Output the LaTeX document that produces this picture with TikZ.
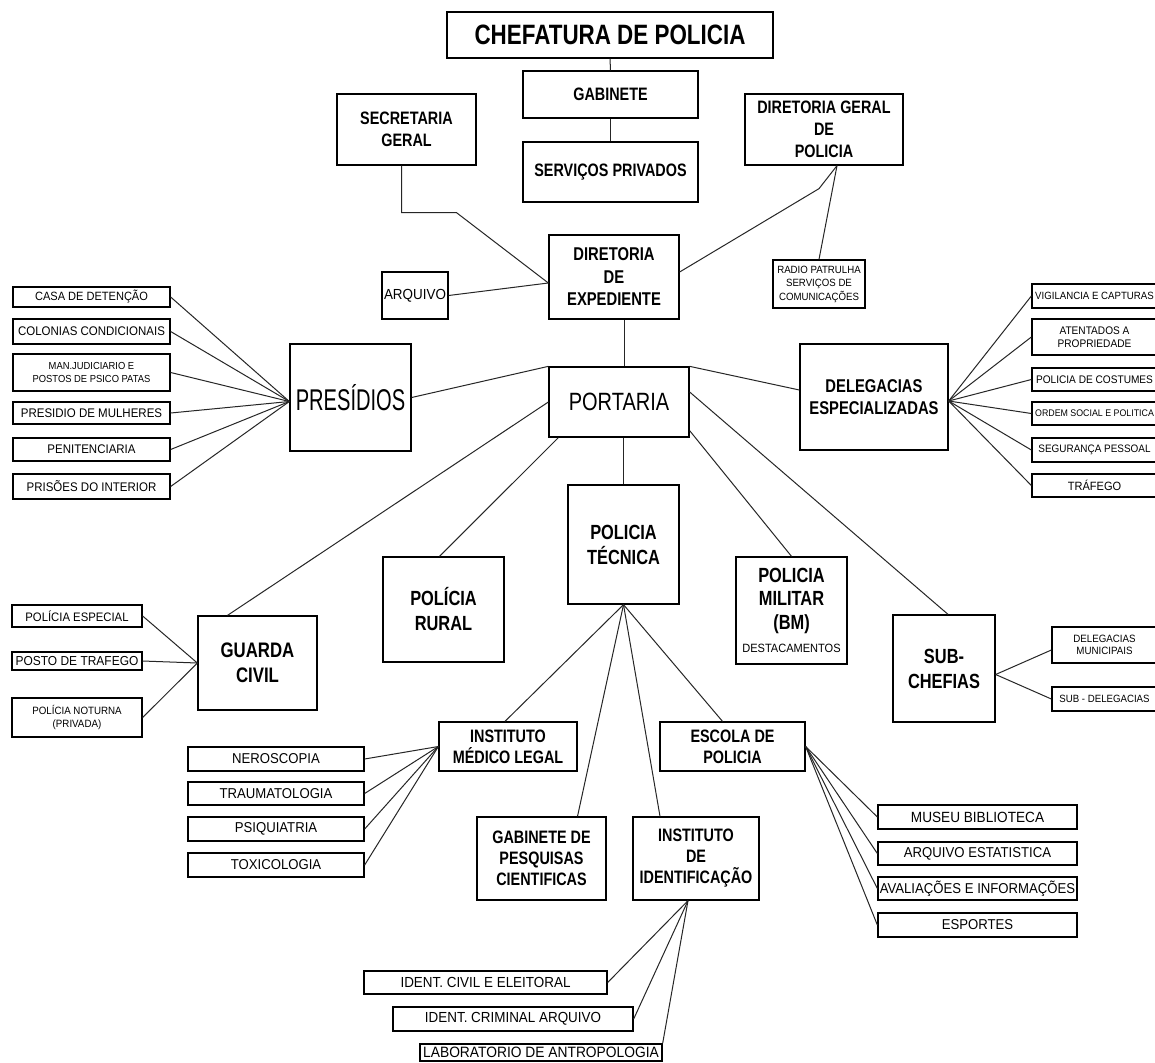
\documentclass[tikz,border=0pt]{standalone}
\usepackage{fontspec}
\newfontfamily\nf[FakeStretch=0.8]{Liberation Sans}
\newfontfamily\nr[FakeStretch=0.92]{Liberation Sans}
\newfontfamily\nc[FakeStretch=0.67]{Liberation Sans}
\newcommand\Bf[2]{\nf\bfseries\fontsize{#1}{#2}\selectfont}
\newcommand\Rf[2]{\nr\mdseries\fontsize{#1}{#2}\selectfont}
\newcommand\Lf[2]{\nf\mdseries\fontsize{#1}{#2}\selectfont}
\newcommand\obox[7]{%
 \pgfmathsetmacro\oboxw{#5-#3}\pgfmathsetmacro\oboxh{#6-#4}%
 \pgfmathsetmacro\oboxx{(#3+#5)/2}\pgfmathsetmacro\oboxy{(#4+#6)/2}%
 \node[bx,#1,minimum width=\oboxw pt,minimum height=\oboxh pt] (#2) at (\oboxx,\oboxy) {#7};}
\tikzset{
 bx/.style={draw=black,line width=1.3pt,inner sep=0pt,align=center,text=black},
 ln/.style={draw=black!85,line width=1pt}
}
\begin{document}
\begin{tikzpicture}[x=1pt,y=-1pt]
\useasboundingbox (0,0) rectangle (1155,1062);
\clip (0,0) rectangle (1155,1062);
\fill[white] (0,0) rectangle (1155,1062);
% top
\obox{font=\Bf{28}{30}}{chef}{447}{12}{773}{58}{CHEFATURA DE POLICIA}
\obox{font=\Bf{18}{20}}{gab}{523}{71}{698}{118}{GABINETE}
\obox{font=\Bf{18}{20}}{serv}{523}{142}{698}{202}{SERVIÇOS PRIVADOS}
\obox{font=\Bf{18}{22}}{sec}{337}{94}{476}{165}{SECRETARIA\\GERAL}
\obox{font=\Bf{18}{22}}{dgp}{745}{94}{903}{165}{DIRETORIA GERAL\\DE\\POLICIA}
\obox{font=\Rf{10.5}{13.5}}{radio}{773}{260}{865}{308}{RADIO PATRULHA\\SERVIÇOS DE\\COMUNICAÇÕES}
\obox{font=\Bf{18.5}{22.5}}{dexp}{549}{235}{679}{319}{DIRETORIA\\DE\\EXPEDIENTE}
\obox{font=\Rf{14.6}{16}}{arq}{382}{272}{448}{319}{ARQUIVO}
% middle
\obox{font={\nc\fontsize{30}{32}\selectfont}}{pres}{290}{344}{411}{451}{PRESÍDIOS}
\obox{font=\Lf{25}{28}}{port}{549}{367}{689}{437}{PORTARIA}
\obox{font=\Bf{18.5}{22}}{deleg}{800}{344}{948}{450}{DELEGACIAS\\ESPECIALIZADAS}
% presidios children
\obox{font=\Rf{12}{14}}{casa}{13}{287}{170}{307}{CASA DE DETENÇÃO}
\obox{font=\Rf{12.5}{14}}{colo}{13}{319}{170}{344}{COLONIAS CONDICIONAIS}
\obox{font=\Rf{10.2}{13}}{manj}{13}{354}{170}{391}{MAN.JUDICIARIO E\\POSTOS DE PSICO PATAS}
\obox{font=\Rf{12.5}{14}}{pmul}{13}{402}{170}{424}{PRESIDIO DE MULHERES}
\obox{font=\Rf{12.5}{14}}{peni}{13}{438}{170}{461}{PENITENCIARIA}
\obox{font=\Rf{12.5}{14}}{pint}{13}{474}{170}{499}{PRISÕES DO INTERIOR}
% delegacias children
\obox{font=\Rf{10.5}{12}}{vig}{1032}{284}{1157}{308}{VIGILANCIA E CAPTURAS}
\obox{font=\Rf{11}{13.5}}{aten}{1032}{319}{1157}{355}{ATENTADOS A\\PROPRIEDADE}
\obox{font=\Rf{11}{12}}{cost}{1032}{368}{1157}{391}{POLICIA DE COSTUMES}
\obox{font=\Rf{9.6}{12}}{ordem}{1032}{402}{1157}{425}{ORDEM SOCIAL E POLITICA}
\obox{font=\Rf{10.8}{12}}{segp}{1032}{438}{1157}{462}{SEGURANÇA PESSOAL}
\obox{font=\Rf{12}{14}}{traf}{1032}{474}{1157}{497}{TRÁFEGO}
% second row
\obox{font=\Bf{20.5}{25}}{rural}{383}{557}{504}{662}{POLÍCIA\\RURAL}
\obox{font=\Bf{20.5}{25}}{tec}{568}{485}{679}{604}{POLICIA\\TÉCNICA}
\obox{font=\Bf{20.5}{23.5}}{mil}{736}{557}{847}{664}{POLICIA\\MILITAR\\(BM)\\{\Rf{12}{14}DESTACAMENTOS}}
\obox{font=\Bf{20.5}{25}}{subc}{893}{615}{995}{722}{SUB-\\CHEFIAS}
\obox{font=\Rf{10.6}{12}}{dmun}{1052}{627}{1157}{663}{DELEGACIAS\\MUNICIPAIS}
\obox{font=\Rf{10.5}{12}}{subd}{1052}{687}{1157}{711}{SUB - DELEGACIAS}
\obox{font=\Bf{21}{25}}{guar}{198}{616}{317}{710}{GUARDA\\CIVIL}
\obox{font=\Rf{12.3}{14}}{pesp}{12}{605}{142}{627}{POLÍCIA ESPECIAL}
\obox{font=\Rf{13}{14}}{ptra}{12}{652}{142}{670}{POSTO DE TRAFEGO}
\obox{font=\Rf{10.6}{13}}{pnot}{12}{698}{142}{737}{POLÍCIA NOTURNA\\(PRIVADA)}
% tecnica children
\obox{font=\Bf{18}{21}}{iml}{439}{722}{577}{771}{INSTITUTO\\MÉDICO LEGAL}
\obox{font=\Bf{18}{21}}{esc}{660}{722}{805}{771}{ESCOLA DE\\POLICIA}
\obox{font=\Bf{18}{21}}{gpc}{477}{817}{606}{900}{GABINETE DE\\PESQUISAS\\CIENTIFICAS}
\obox{font=\Bf{18}{21}}{iid}{633}{817}{759}{900}{INSTITUTO\\DE\\IDENTIFICAÇÃO}
\obox{font=\Rf{14.3}{15}}{nero}{188}{747}{364}{771}{NEROSCOPIA}
\obox{font=\Rf{14.3}{15}}{trau}{188}{782}{364}{805}{TRAUMATOLOGIA}
\obox{font=\Rf{14.3}{15}}{psiq}{188}{817}{364}{841}{PSIQUIATRIA}
\obox{font=\Rf{14.3}{15}}{toxi}{188}{853}{364}{877}{TOXICOLOGIA}
\obox{font=\Rf{14.8}{15}}{muse}{878}{805}{1077}{829}{MUSEU BIBLIOTECA}
\obox{font=\Rf{14.3}{15}}{arqe}{878}{842}{1077}{865}{ARQUIVO ESTATISTICA}
\obox{font=\Rf{14.3}{15}}{aval}{878}{877}{1077}{900}{AVALIAÇÕES E INFORMAÇÕES}
\obox{font=\Rf{14.3}{15}}{espo}{878}{913}{1077}{937}{ESPORTES}
\obox{font=\Rf{14.6}{16}}{icivil}{364}{971}{607}{994}{IDENT. CIVIL E ELEITORAL}
\obox{font=\Rf{14.6}{16}}{icrim}{393}{1007}{633}{1031}{IDENT. CRIMINAL ARQUIVO}
\obox{font=\Rf{15}{16}}{ilab}{420}{1044}{662}{1061}{LABORATORIO DE ANTROPOLOGIA}
% connectors top
\draw[ln] (chef.south) -- (gab.north);
\draw[ln] (gab.south) -- (serv.north);
\draw[ln] ([xshift=-5pt]sec.south) -- ++(0,47) -- ++(55,0) -- ([yshift=-6pt]dexp.west);
\draw[ln] (arq.east) -- ([yshift=-6pt]dexp.west);
\draw[ln] ([xshift=13pt]dgp.south) -- ++(-18,23) -- ([yshift=5pt]dexp.east);
\draw[ln] ([xshift=13pt]dgp.south) -- (radio.north);
\draw[ln] ([xshift=5pt]port.north) -- ([xshift=5pt]port.north |- dexp.south);
% portaria
\draw[ln] (pres.east) -- (port.north west);
\draw[ln] (port.north east) -- ([yshift=7pt]deleg.west);
\draw[ln] (port.west) -- ([xshift=-30pt]guar.north);
\draw[ln] ([xshift=10pt]port.south west) -- ([xshift=-4pt]rural.north);
\draw[ln] (tec.north) -- (tec.north |- port.south);
\draw[ln] ([yshift=7pt]port.south east) -- (mil.north);
\draw[ln] ([yshift=10pt]port.east) -- ([xshift=4pt]subc.north);
% children
\foreach \c in {casa,colo,manj,pmul,peni,pint} \draw[ln] ([yshift=-4pt]pres.west) -- (\c.east);
\foreach \c in {vig,aten,cost,ordem,segp,traf} \draw[ln] ([yshift=-4pt]deleg.east) -- (\c.west);
\draw[ln] ([yshift=-6pt]subc.east) -- ([yshift=-5pt]dmun.west);
\draw[ln] ([yshift=-6pt]subc.east) -- (subd.west);
\foreach \c in {pesp,ptra,pnot} \draw[ln] (guar.west) -- (\c.east);
% tecnica
\draw[ln] (tec.south) -- ([xshift=-3pt]iml.north);
\draw[ln] (tec.south) -- ([xshift=36pt]gpc.north);
\draw[ln] (tec.south) -- ([xshift=-36pt]iid.north);
\draw[ln] (tec.south) -- ([xshift=-10pt]esc.north);
\foreach \c in {nero,trau,psiq,toxi} \draw[ln] (iml.west) -- (\c.east);
\foreach \c in {muse,arqe,aval,espo} \draw[ln] (esc.east) -- (\c.west);
\draw[ln] ([xshift=-8pt]iid.south) -- (icivil.east);
\draw[ln] ([xshift=-8pt]iid.south) -- (icrim.east);
\draw[ln] ([xshift=-8pt]iid.south) -- (ilab.north east);
\end{tikzpicture}
\end{document}
